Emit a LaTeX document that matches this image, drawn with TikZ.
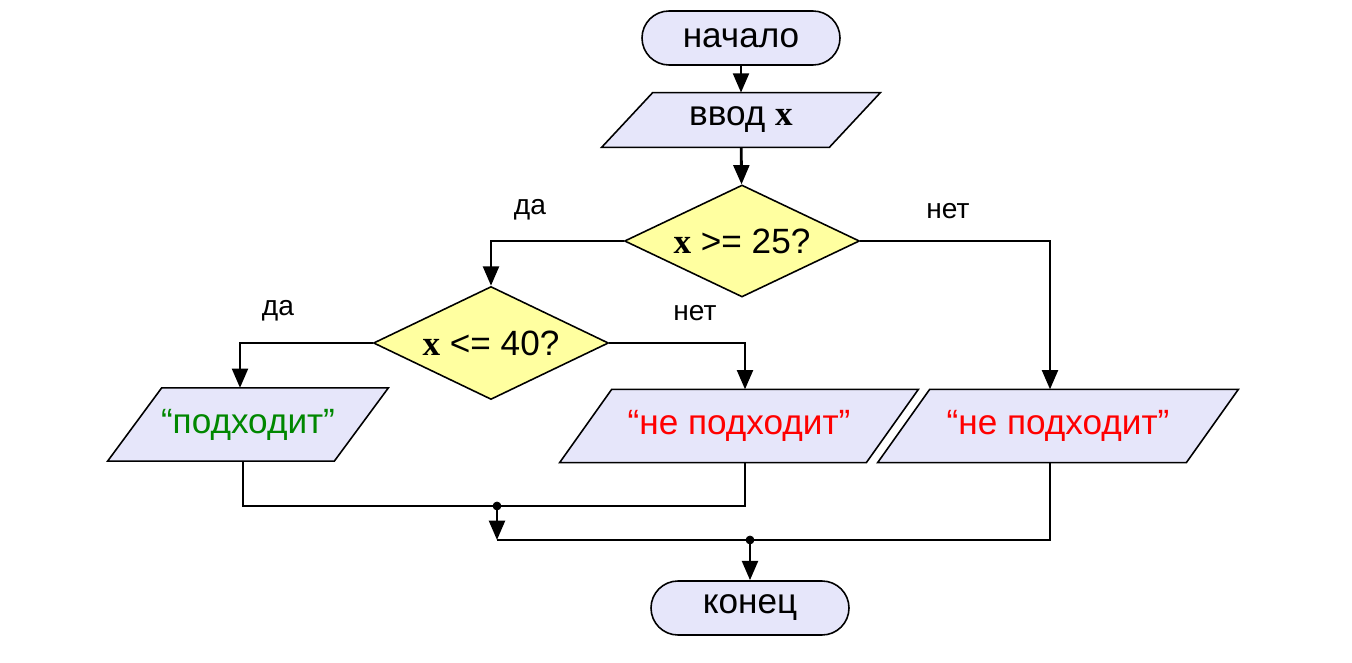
\documentclass[tikz,border=0pt]{standalone}
\usepackage{fontspec}
\setmainfont{Liberation Sans}
\newfontfamily\varfont{Liberation Serif}
\usetikzlibrary{shapes.geometric,arrows.meta,backgrounds}

\definecolor{blockfill}{RGB}{230,230,250}
\definecolor{condfill}{RGB}{255,255,160}
\definecolor{okgreen}{RGB}{0,135,0}

\newcommand{\xvar}{{\varfont\bfseries x}}

\tikzset{
  term/.style={draw, fill=blockfill, line width=0.9pt, rectangle, rounded corners=0.54cm,
    minimum width=3.96cm, minimum height=1.08cm, font=\fontsize{20}{24}\selectfont},
  io/.style={rectangle, inner sep=0pt, minimum height=1.45cm,
    font=\fontsize{20}{24}\selectfont},
  iobox/.style={draw, fill=blockfill, line width=0.9pt},
  cond/.style={draw, fill=condfill, line width=0.9pt, diamond, shape aspect=2.1, inner sep=0pt,
    minimum width=4.7cm, minimum height=2.24cm, font=\fontsize{20}{24}\selectfont},
  lbl/.style={font=\fontsize{16}{19}\selectfont},
  flow/.style={line width=1.6pt}
}

\begin{document}
\begin{tikzpicture}[>={Triangle[width=9pt,length=11pt]}]
  \useasboundingbox (0,0) rectangle (27.04,13.24);

  % blocks
  \node[term] (start) at (14.82,12.48) {начало};
  \node[io, minimum width=5.56cm, minimum height=1.08cm] (inp) at (14.82,10.84) {ввод \xvar};
  \node[cond] (c1) at (14.84,8.42) {\xvar{} >= 25?};
  \node[cond, minimum height=2.26cm] (c2) at (9.82,6.38) {\xvar{} <= 40?};
  \node[io, minimum width=5.6cm, text=okgreen] (ok) at (4.96,4.75) {“подходит”};
  \node[io, minimum width=7.16cm, text=red] (no1) at (14.78,4.72) {“не подходит”};
  \node[io, minimum width=7.2cm, text=red] (no2) at (21.16,4.72) {“не подходит”};
  \node[term] (stop) at (15.00,1.08) {конец};

  % parallelograms behind the io texts
  \begin{scope}[on background layer]
    \foreach \n/\s in {inp/1.02, ok/1.08, no1/1.04, no2/1.04}
      \filldraw[iobox] ([xshift=\s cm]\n.north west) -- (\n.north east)
        -- ([xshift=-\s cm]\n.south east) -- (\n.south west) -- cycle;
  \end{scope}

  % branch labels
  \node[lbl] (yes1) at (10.60,9.04) {да};
  \node[lbl] (not1) at (18.96,9.02) {нет};
  \node[lbl] (yes2) at (5.56,7.02) {да};
  \node[lbl] (not2) at (13.90,6.98) {нет};

  % joins
  \coordinate (m1) at (9.94,3.12);
  \coordinate (m3) at (9.94,2.44);
  \coordinate (m2) at (15.00,2.44);

  % connectors
  \draw[flow,->] (start) -- (inp);
  \draw[flow,->] (inp) -- (c1);
  \draw[flow,->] (c1.west) -| (c2.north);
  \draw[flow,->] (c1.east) -| ([xshift=-0.16cm]no2.north);
  \draw[flow,->] (c2.west) -| ([xshift=-0.16cm]ok.north);
  \draw[flow,->] (c2.east) -| ([xshift=0.12cm]no1.north);

  \draw[flow] ([xshift=-0.1cm]ok.south) |- (m1) -| ([xshift=0.12cm]no1.south);
  \draw[flow,->] (m1) -- (m3);
  \draw[flow] (m3) -- (m2) -| ([xshift=-0.16cm]no2.south);
  \draw[flow,->] (m2) -- (stop);
  \filldraw (m1) circle (0.08);
  \filldraw (m2) circle (0.08);
\end{tikzpicture}
\end{document}
